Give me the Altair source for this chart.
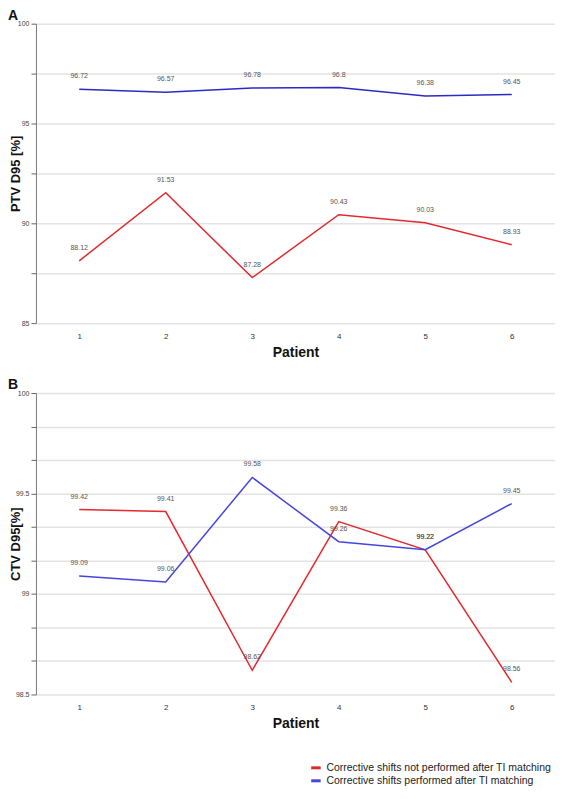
import altair as alt
import pandas as pd

patients = [1, 2, 3, 4, 5, 6]
series_not = "Corrective shifts not performed after TI matching"
series_done = "Corrective shifts performed after TI matching"

ptv_not = [88.12, 91.53, 87.28, 90.43, 90.03, 88.93]
ptv_done = [96.72, 96.57, 96.78, 96.8, 96.38, 96.45]
ctv_not = [99.42, 99.41, 98.62, 99.36, 99.22, 98.56]
ctv_done = [99.09, 99.06, 99.58, 99.26, 99.22, 99.45]

ptv_grid = [85, 87.5, 90, 92.5, 95, 97.5, 100]
ctv_grid = [98.5, 98.5 + 1/6, 98.5 + 2/6, 99, 99 + 1/6, 99 + 2/6, 99.5, 99.5 + 1/6, 99.5 + 2/6, 100]

RED = "#e3292e"
BLUE_A = "#2b2bc4"
BLUE_B = "#4646dc"


def make_df(a, b):
    rows = []
    for p, v in zip(patients, a):
        rows.append({"Patient": p, "value": v, "series": series_not, "lab": f"{v:g}"})
    for p, v in zip(patients, b):
        rows.append({"Patient": p, "value": v, "series": series_done, "lab": f"{v:g}"})
    return pd.DataFrame(rows)


def panel(df, letter, ytitle, domain, grid, step, blue, show_legend, h):
    xenc = alt.X(
        "Patient:O",
        scale=alt.Scale(type="point", padding=0.5),
        axis=alt.Axis(
            title="Patient", labelAngle=0, ticks=False, domain=False, grid=False,
            labelFontSize=8, labelColor="#333", labelPadding=9,
            titleFontSize=14, titleFontWeight="bold", titleColor="#111", titlePadding=5,
        ),
    )
    yenc = alt.Y(
        "value:Q",
        scale=alt.Scale(domain=domain, nice=False, zero=False),
        axis=alt.Axis(
            values=grid, tickCount=30, labelOverlap=False,
            labelExpr=f"abs(datum.value/{step} - round(datum.value/{step})) < 0.001 ? format(datum.value, '~g') : ''",
            title=ytitle, titleFontSize=13, titleFontWeight="bold", titleColor="#111",
            titleX=-13, titleBaseline="bottom", titleAngle=-90,
            labelFontSize=7, labelColor="#444", tickSize=5, tickColor="#666",
            domainColor="#777", gridColor="#e3e3e3", gridWidth=1.5, labelPadding=2,
        ),
    )
    if show_legend:
        legend = alt.Legend(
            title=None, orient="none", legendX=274, legendY=369,
            symbolType="stroke", symbolStrokeWidth=3, symbolSize=90,
            labelFontSize=10.5, labelColor="#222", rowPadding=0, symbolOffset=0,
            labelLimit=0,
        )
    else:
        legend = None
    color = alt.Color(
        "series:N",
        scale=alt.Scale(domain=[series_not, series_done], range=[RED, blue]),
        legend=legend,
    )
    base = alt.Chart(df)
    lines = base.mark_line(strokeWidth=1.5).encode(x=xenc, y=yenc, color=color)
    labels = base.mark_text(fontSize=7, color="#555", dy=-13, baseline="middle").encode(
        x="Patient:O", y="value:Q", text="lab:N"
    )
    return alt.layer(lines, labels).properties(
        width=520, height=h,
        title=alt.TitleParams(letter, anchor="start", frame="bounds", fontSize=14,
                              fontWeight="bold", offset=-3, color="#111", dx=-2),
    )


a = panel(make_df(ptv_not, ptv_done), "A", "PTV D95 [%]", [85, 100], ptv_grid, 5, BLUE_A, False, 300)
b = panel(make_df(ctv_not, ctv_done), "B", "CTV D95[%]", [98.5, 100], ctv_grid, 0.5, BLUE_B, True, 302)

chart = alt.vconcat(a, b, spacing=19).resolve_scale(color="independent").configure(
    font="Liberation Sans", padding=0
).configure_view(stroke=None)

chart.save("out.html", embed_options={"renderer": "svg", "actions": False})
